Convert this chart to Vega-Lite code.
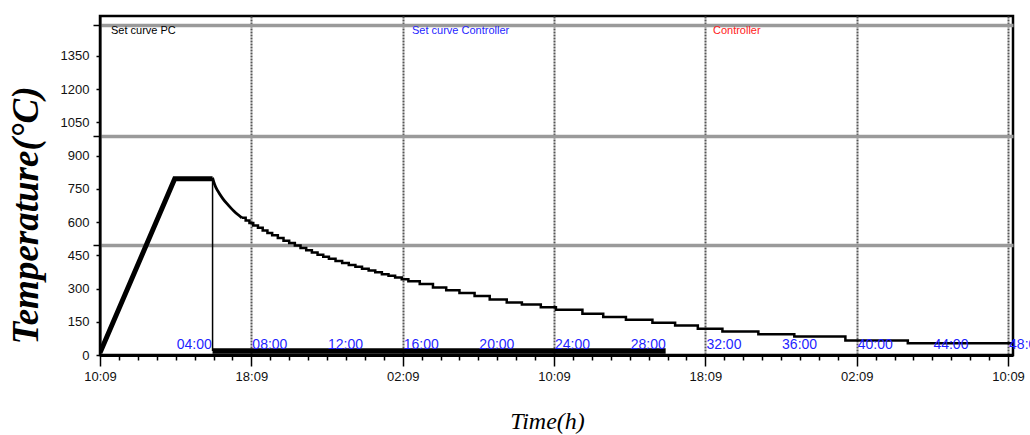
{
  "$schema": "https://vega.github.io/schema/vega-lite/v6.json",
  "width": 913,
  "height": 339,
  "autosize": {"type": "none"},
  "padding": {"left": 100, "top": 16, "right": 17, "bottom": 80},
  "background": "white",
  "config": {
    "view": {"stroke": "black", "strokeWidth": 2.5},
    "font": "Liberation Sans",
    "axisX": {
      "tickCount": 200,
      "labelOverlap": false,
      "labelFlush": false,
      "labelFont": "Liberation Sans",
      "labelFontSize": 13,
      "labelColor": "#111111",
      "labelPadding": 4,
      "tickColor": "black",
      "tickWidth": 1.5,
      "domainColor": "black",
      "domainWidth": 3,
      "gridColor": "#555555",
      "gridWidth": 2,
      "gridDash": [2, 1],
      "titleFont": "Liberation Serif",
      "titleFontStyle": "italic",
      "titleFontWeight": "normal",
      "titleFontSize": 24,
      "titleColor": "black",
      "titleX": 447,
      "titleY": 73,
      "titleAlign": "center",
      "titleBaseline": "alphabetic"
    },
    "axisY": {
      "tickCount": 200,
      "labelOverlap": false,
      "labelFlush": false,
      "labelFont": "Liberation Sans",
      "labelFontSize": 13,
      "labelColor": "#111111",
      "labelPadding": 7,
      "tickColor": "black",
      "tickWidth": 1.5,
      "domainColor": "black",
      "domainWidth": 2,
      "gridColor": "#9a9a9a",
      "gridWidth": 3.5,
      "titleFont": "Liberation Serif",
      "titleFontStyle": "italic",
      "titleFontWeight": "bold",
      "titleFontSize": 37,
      "titleColor": "black",
      "titleAngle": 270,
      "titleX": -63,
      "titleY": 199,
      "titleAlign": "center",
      "titleBaseline": "alphabetic"
    }
  },
  "datasets": {
    "curves": [
      {"series": "ramp", "h": 0, "t": 10},
      {"series": "ramp", "h": 3.95, "t": 795},
      {"series": "ramp", "h": 5.95, "t": 795},
      {"series": "drop", "h": 5.95, "t": 795},
      {"series": "drop", "h": 5.95, "t": 18},
      {"series": "band", "h": 5.95, "t": 18},
      {"series": "band", "h": 29.9, "t": 18},
      {"series": "smooth", "h": 5.95, "t": 800},
      {"series": "smooth", "h": 6.05, "t": 772},
      {"series": "smooth", "h": 6.15, "t": 752},
      {"series": "smooth", "h": 6.3, "t": 730},
      {"series": "smooth", "h": 6.5, "t": 705},
      {"series": "smooth", "h": 6.7, "t": 684},
      {"series": "smooth", "h": 6.9, "t": 665},
      {"series": "smooth", "h": 7.1, "t": 648},
      {"series": "smooth", "h": 7.3, "t": 633},
      {"series": "smooth", "h": 7.5, "t": 619},
      {"series": "cool", "h": 7.5, "t": 619},
      {"series": "cool", "h": 7.7, "t": 607},
      {"series": "cool", "h": 7.9, "t": 596},
      {"series": "cool", "h": 8.1, "t": 585},
      {"series": "cool", "h": 8.35, "t": 574},
      {"series": "cool", "h": 8.6, "t": 562},
      {"series": "cool", "h": 8.85, "t": 551},
      {"series": "cool", "h": 9.1, "t": 540},
      {"series": "cool", "h": 9.4, "t": 528},
      {"series": "cool", "h": 9.7, "t": 516},
      {"series": "cool", "h": 10.0, "t": 505},
      {"series": "cool", "h": 10.3, "t": 494},
      {"series": "cool", "h": 10.6, "t": 483},
      {"series": "cool", "h": 10.9, "t": 473},
      {"series": "cool", "h": 11.2, "t": 463},
      {"series": "cool", "h": 11.5, "t": 453},
      {"series": "cool", "h": 11.8, "t": 443},
      {"series": "cool", "h": 12.1, "t": 434},
      {"series": "cool", "h": 12.45, "t": 424},
      {"series": "cool", "h": 12.8, "t": 415},
      {"series": "cool", "h": 13.15, "t": 406},
      {"series": "cool", "h": 13.5, "t": 398},
      {"series": "cool", "h": 13.85, "t": 389},
      {"series": "cool", "h": 14.2, "t": 381},
      {"series": "cool", "h": 14.55, "t": 373},
      {"series": "cool", "h": 14.9, "t": 365},
      {"series": "cool", "h": 15.25, "t": 358},
      {"series": "cool", "h": 15.6, "t": 350},
      {"series": "cool", "h": 15.95, "t": 342},
      {"series": "cool", "h": 16.3, "t": 333},
      {"series": "cool", "h": 16.9, "t": 320},
      {"series": "cool", "h": 17.6, "t": 305},
      {"series": "cool", "h": 18.3, "t": 292},
      {"series": "cool", "h": 19.0, "t": 280},
      {"series": "cool", "h": 19.8, "t": 266},
      {"series": "cool", "h": 20.6, "t": 251},
      {"series": "cool", "h": 21.5, "t": 237},
      {"series": "cool", "h": 22.3, "t": 228},
      {"series": "cool", "h": 23.3, "t": 216},
      {"series": "cool", "h": 24.1, "t": 204},
      {"series": "cool", "h": 25.5, "t": 186},
      {"series": "cool", "h": 26.6, "t": 172},
      {"series": "cool", "h": 27.8, "t": 159},
      {"series": "cool", "h": 29.2, "t": 146},
      {"series": "cool", "h": 30.4, "t": 133},
      {"series": "cool", "h": 31.6, "t": 119},
      {"series": "cool", "h": 32.9, "t": 106},
      {"series": "cool", "h": 34.8, "t": 94},
      {"series": "cool", "h": 36.7, "t": 83},
      {"series": "cool", "h": 39.4, "t": 65},
      {"series": "cool", "h": 42.7, "t": 53},
      {"series": "cool", "h": 48.26, "t": 53}
    ],
    "blue": [
      {"h": 4, "label": "04:00"},
      {"h": 8, "label": "08:00"},
      {"h": 12, "label": "12:00"},
      {"h": 16, "label": "16:00"},
      {"h": 20, "label": "20:00"},
      {"h": 24, "label": "24:00"},
      {"h": 28, "label": "28:00"},
      {"h": 32, "label": "32:00"},
      {"h": 36, "label": "36:00"},
      {"h": 40, "label": "40:00"},
      {"h": 44, "label": "44:00"},
      {"h": 48, "label": "48:00"}
    ],
    "names": [
      {"h": 0.58, "label": "Set curve PC"},
      {"h": 16.49, "label": "Set curve Controller"},
      {"h": 32.4, "label": "Controller"}
    ]
  },
  "layer": [
    {
      "data": {"name": "curves"},
      "transform": [{"filter": "datum.series == 'cool'"}],
      "mark": {"type": "line", "interpolate": "step-after", "color": "black", "strokeWidth": 2.5, "clip": true},
      "encoding": {
        "x": {
          "field": "h",
          "type": "quantitative",
          "title": "Time(h)",
          "scale": {"domain": [0, 48.26], "nice": false, "zero": false},
          "axis": {
            "values": [0,1,2,3,4,5,6,7,8,9,10,11,12,13,14,15,16,17,18,19,20,21,22,23,24,25,26,27,28,29,30,31,32,33,34,35,36,37,38,39,40,41,42,43,44,45,46,47,48],
            "tickCount": 200,
            "labelExpr": "datum.value % 8 != 0 ? '' : (datum.value % 24 == 0 ? '10:09' : (datum.value % 24 == 8 ? '18:09' : '02:09'))",
            "labelOverlap": false,
            "tickSize": {"condition": {"test": "datum.value % 8 == 0", "value": 11}, "value": 5},
            "grid": true,
            "gridOpacity": {"condition": {"test": "datum.value % 8 == 0 && datum.value > 0", "value": 1}, "value": 0}
          }
        },
        "y": {
          "field": "t",
          "type": "quantitative",
          "title": "Temperature(°C)",
          "scale": {"domain": [0, 1530], "nice": false, "zero": true},
          "axis": {
            "values": [0,150,300,450,495,600,750,900,990,1050,1200,1350,1490],
            "tickCount": 200,
            "format": "d",
            "labelExpr": "datum.value % 150 == 0 ? datum.label : ''",
            "labelOverlap": false,
            "tickSize": {"condition": {"test": "datum.value % 150 != 0", "value": 7}, "value": 4},
            "grid": true,
            "gridOpacity": {"condition": {"test": "datum.value % 150 != 0", "value": 1}, "value": 0}
          }
        }
      }
    },
    {
      "data": {"name": "curves"},
      "transform": [{"filter": "datum.series == 'smooth'"}],
      "mark": {"type": "line", "interpolate": "monotone", "color": "black", "strokeWidth": 2.8, "clip": true},
      "encoding": {
        "x": {"field": "h", "type": "quantitative", "title": "Time(h)", "axis": {"tickCount": 200}},
        "y": {"field": "t", "type": "quantitative", "title": "Temperature(°C)", "axis": {"tickCount": 200}}
      }
    },
    {
      "data": {"name": "curves"},
      "transform": [{"filter": "datum.series == 'ramp'"}],
      "mark": {"type": "line", "color": "black", "strokeWidth": 5, "strokeJoin": "miter", "clip": true},
      "encoding": {
        "x": {"field": "h", "type": "quantitative", "title": "Time(h)", "axis": {"tickCount": 200}},
        "y": {"field": "t", "type": "quantitative", "title": "Temperature(°C)", "axis": {"tickCount": 200}}
      }
    },
    {
      "data": {"name": "curves"},
      "transform": [{"filter": "datum.series == 'drop'"}],
      "mark": {"type": "line", "color": "black", "strokeWidth": 1.5, "clip": true},
      "encoding": {
        "x": {"field": "h", "type": "quantitative", "title": "Time(h)", "axis": {"tickCount": 200}},
        "y": {"field": "t", "type": "quantitative", "title": "Temperature(°C)", "axis": {"tickCount": 200}}
      }
    },
    {
      "data": {"name": "curves"},
      "transform": [{"filter": "datum.series == 'band'"}],
      "mark": {"type": "line", "color": "black", "strokeWidth": 5.5, "strokeCap": "butt", "clip": true},
      "encoding": {
        "x": {"field": "h", "type": "quantitative", "title": "Time(h)", "axis": {"tickCount": 200}},
        "y": {"field": "t", "type": "quantitative", "title": "Temperature(°C)", "axis": {"tickCount": 200}}
      }
    },
    {
      "data": {"name": "blue"},
      "mark": {"type": "text", "align": "left", "baseline": "alphabetic", "dx": 1, "font": "Liberation Sans", "fontSize": 14, "color": "#1f1fff"},
      "encoding": {
        "x": {"field": "h", "type": "quantitative", "title": "Time(h)", "axis": {"tickCount": 200}},
        "y": {"datum": 29, "type": "quantitative", "title": "Temperature(°C)", "axis": {"tickCount": 200}},
        "text": {"field": "label"}
      }
    },
    {
      "data": {"name": "names"},
      "mark": {"type": "text", "align": "left", "baseline": "alphabetic", "font": "Liberation Sans", "fontSize": 11},
      "encoding": {
        "x": {"field": "h", "type": "quantitative", "title": "Time(h)", "axis": {"tickCount": 200}},
        "y": {"datum": 1451, "type": "quantitative", "title": "Temperature(°C)", "axis": {"tickCount": 200}},
        "text": {"field": "label"},
        "color": {
          "field": "label",
          "type": "nominal",
          "scale": {"domain": ["Set curve PC", "Set curve Controller", "Controller"], "range": ["black", "#1f1fff", "#ff2020"]},
          "legend": null
        }
      }
    }
  ]
}
